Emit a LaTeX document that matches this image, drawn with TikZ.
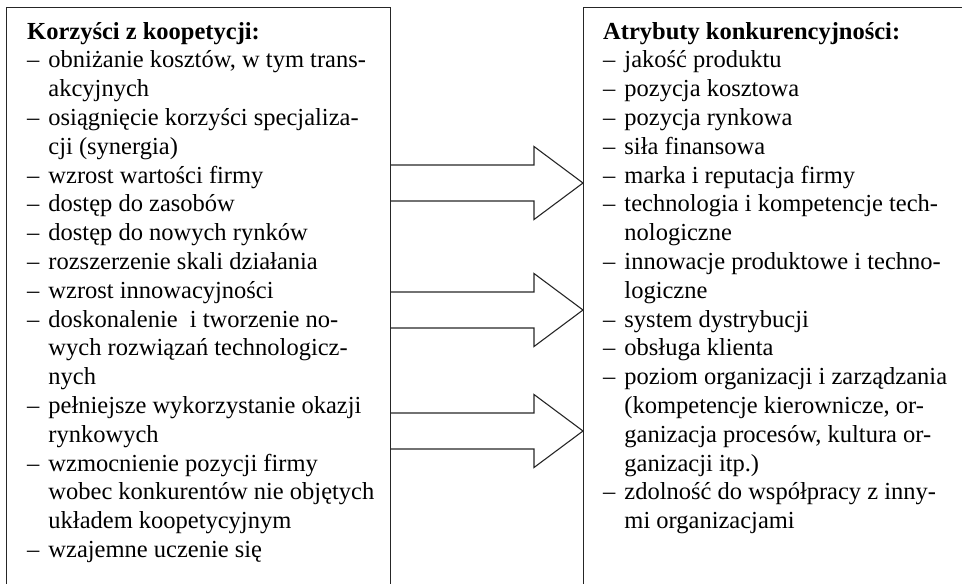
\documentclass[tikz,border=0pt]{standalone}
\usepackage{fontspec}
\setmainfont{Liberation Serif}

\tikzset{
  box/.style={draw=black!85, line width=1.1pt, anchor=north west, minimum height=640, inner sep=0},
  lista/.style={anchor=base west, inner sep=0, font=\fontsize{24.5}{28.8}\selectfont},
  blockarrow/.style={draw=black!85, line width=1.1pt, line join=miter}
}
\newcommand{\tytul}[1]{\multicolumn{2}{@{}l@{}}{\bfseries #1}}

\begin{document}
\begin{tikzpicture}[x=1pt,y=-1pt]
\useasboundingbox (0,0) rectangle (962,584);

% the two boxes
\node [box, minimum width=384] (korzysci) at (6,7) {};
\node [box, minimum width=420] (atrybuty) at (583,7) {};

\node [lista] (korzyscitxt) at (27,39) {\begin{tabular}[t]{@{}l@{\hspace{9pt}}l@{}}
\tytul{Korzyści z koopetycji:}\\
– & obniżanie kosztów, w tym trans-\\
  & akcyjnych\\
– & osiągnięcie korzyści specjaliza-\\
  & cji (synergia)\\
– & wzrost wartości firmy\\
– & dostęp do zasobów\\
– & dostęp do nowych rynków\\
– & rozszerzenie skali działania\\
– & wzrost innowacyjności\\
– & doskonalenie\ \ i tworzenie no-\\
  & wych rozwiązań technologicz-\\
  & nych\\
– & pełniejsze wykorzystanie okazji\\
  & rynkowych\\
– & wzmocnienie pozycji firmy\\
  & wobec konkurentów nie objętych\\
  & układem koopetycyjnym\\
– & wzajemne uczenie się
\end{tabular}};

\node [lista] (atrybutytxt) at (603,39) {\begin{tabular}[t]{@{}l@{\hspace{9pt}}l@{}}
\tytul{Atrybuty konkurencyjności:}\\
– & jakość produktu\\
– & pozycja kosztowa\\
– & pozycja rynkowa\\
– & siła finansowa\\
– & marka i reputacja firmy\\
– & technologia i kompetencje tech-\\
  & nologiczne\\
– & innowacje produktowe i techno-\\
  & logiczne\\
– & system dystrybucji\\
– & obsługa klienta\\
– & poziom organizacji i zarządzania\\
  & (kompetencje kierownicze, or-\\
  & ganizacja procesów, kultura or-\\
  & ganizacji itp.)\\
– & zdolność do współpracy z inny-\\
  & mi organizacjami
\end{tabular}};

% block arrows
\draw [blockarrow] (korzysci.east |- 0,165) -- (534,165) -- (534,146.5) -- (atrybuty.west |- 0,183) -- (534,219.5) -- (534,201) -- (korzysci.east |- 0,201);
\draw [blockarrow] (korzysci.east |- 0,292) -- (534,292) -- (534,273.5) -- (atrybuty.west |- 0,310) -- (534,346.5) -- (534,328) -- (korzysci.east |- 0,328);
\draw [blockarrow] (korzysci.east |- 0,413) -- (534,413) -- (534,394.5) -- (atrybuty.west |- 0,431) -- (534,467.5) -- (534,449) -- (korzysci.east |- 0,449);

\end{tikzpicture}
\end{document}
